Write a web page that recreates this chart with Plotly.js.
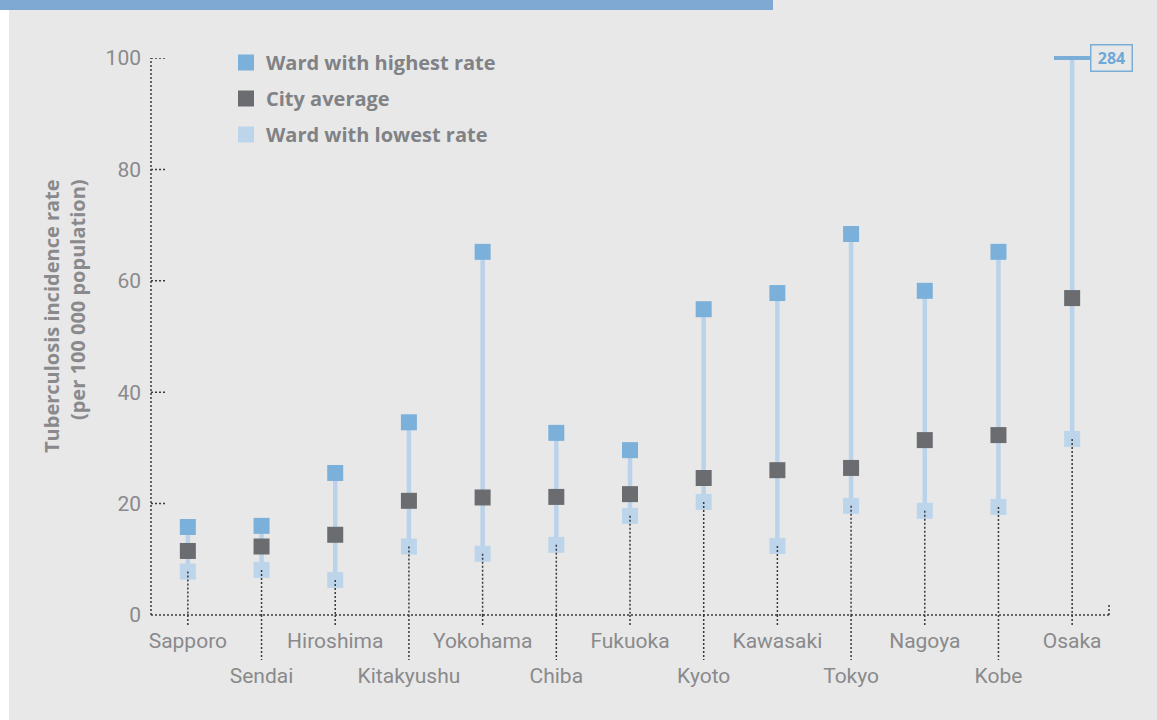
<!DOCTYPE html>
<html>
<head>
<meta charset="utf-8">
<script src="https://cdn.plot.ly/plotly-3.0.1.min.js"></script>
<style>html,body{margin:0;padding:0;background:#e8e8e8;}#chart{width:1157px;height:720px;}</style>
</head>
<body>
<div id="chart"></div>
<script>
// ---- data ----
var cities = ["Sapporo","Sendai","Hiroshima","Kitakyushu","Yokohama","Chiba","Fukuoka","Kyoto","Kawasaki","Tokyo","Nagoya","Kobe","Osaka"];
var highest = [15.8, 16.0, 25.5, 34.6, 65.2, 32.7, 29.6, 54.9, 57.8, 68.4, 58.2, 65.2, 284];
var average = [11.5, 12.3, 14.4, 20.5, 21.1, 21.2, 21.7, 24.6, 26.0, 26.4, 31.4, 32.3, 56.9];
var lowest  = [7.8, 8.1, 6.3, 12.3, 11.0, 12.6, 17.8, 20.3, 12.4, 19.6, 18.7, 19.4, 31.6];
var yTicks = [0, 20, 40, 60, 80, 100];
var seriesNames = ["Ward with highest rate", "City average", "Ward with lowest rate"];
var yTitle = "Tuberculosis incidence rate<br>(per 100 000 population)";

// ---- layout geometry (styling) ----
var W = 1157, H = 720, L = 151, R = 48, T = 58, B = 105;
var PW = W - L - R, PH = H - T - B;
function px2x(px){ return (px - L) / PW; }
function px2y(py){ return (H - B - py) / PH; }
var yMax = yTicks[yTicks.length - 1];

var cHigh = "#7bb0da", cAvg = "#6b6c70", cLow = "#bcd5eb", cConn = "#bad3ea", cCap = "#7aaed6";
var cText = "#8a8a8c", cDot = "#3a3a3a";
var font = "Roboto, 'Open Sans', sans-serif";
var boldFont = "'Open Sans', Roboto, sans-serif";
var dotLine = {color: cDot, width: 1.5, dash: "2px,2px"};

// connectors low -> high
var cx = [], cy = [], dx = [], dy = [];
cities.forEach(function(c, i){
  cx.push(c, c, null); cy.push(lowest[i], highest[i], null);
  dx.push(c, c, null); dy.push(lowest[i], 0, null);
});

var even = cities.filter(function(c, i){ return i % 2 === 0; });
var odd = cities.filter(function(c, i){ return i % 2 === 1; });
var over = cities.filter(function(c, i){ return highest[i] > yMax; });
var overVals = highest.filter(function(v){ return v > yMax; });

var traces = [
  {x: cx, y: cy, mode: "lines", line: {color: cConn, width: 4.5}, showlegend: false, hoverinfo: "skip"},
  {x: dx, y: dy, xaxis: "x2", mode: "lines", line: dotLine, showlegend: false, hoverinfo: "skip"},
  {x: cities, y: lowest, mode: "markers", name: seriesNames[2], legendgroup: "c", legendrank: 3,
   marker: {symbol: "square", size: 16, color: cLow}},
  {x: cities, y: average, mode: "markers", name: seriesNames[1], legendgroup: "b", legendrank: 2,
   marker: {symbol: "square", size: 16, color: cAvg}},
  {x: cities, y: highest, mode: "markers", name: seriesNames[0], legendgroup: "a", legendrank: 1,
   marker: {symbol: "square", size: 16, color: cHigh}},
  {x: over, y: over.map(function(){ return yMax; }), mode: "markers", showlegend: false, cliponaxis: false,
   marker: {symbol: "line-ew", size: 26, line: {color: cCap, width: 4}}, hoverinfo: "skip"}
];

var shapes = [
  {type: "rect", xref: "paper", yref: "paper", x0: px2x(0), x1: px2x(9), y0: px2y(H), y1: px2y(0),
   fillcolor: "#ffffff", line: {width: 0}, layer: "below"},
  {type: "rect", xref: "paper", yref: "paper", x0: px2x(0), x1: px2x(773), y0: px2y(10), y1: px2y(0),
   fillcolor: "#7fa8d2", line: {width: 0}, layer: "below"},
  {type: "line", xref: "paper", yref: "paper", x0: 0, x1: 0, y0: 0, y1: 1, line: dotLine},
  {type: "line", xref: "paper", yref: "paper", x0: 0, x1: 1, y0: 0, y1: 0, line: dotLine},
  {type: "line", xref: "paper", yref: "paper", x0: 1, x1: 1, y0: 0, y1: 12 / PH, line: dotLine}
];
yTicks.forEach(function(t){
  if (t === 0) return;
  shapes.push({type: "line", xref: "paper", yref: "y", x0: 0, x1: 14 / PW, y0: t, y1: t, line: dotLine});
});
cities.forEach(function(c, i){
  shapes.push({type: "line", xref: "x", yref: "paper", x0: i, x1: i, y0: 0,
    y1: (i % 2 === 0) ? -10 / PH : -45 / PH, line: dotLine});
});

var annotations = [
  {xref: "paper", yref: "paper", x: px2x(64), y: px2y(177), xanchor: "center", yanchor: "top",
   text: yTitle, textangle: -90, align: "right", showarrow: false,
   font: {family: boldFont, size: 20, color: cText, weight: "bold"}}
];
over.forEach(function(c, k){
  annotations.push({x: c, y: yMax, xref: "x", yref: "y", xanchor: "left", yanchor: "middle", xshift: 18, yshift: 0,
    text: "<b>" + overVals[k] + "</b>", showarrow: false, width: 38, height: 23, borderpad: 1,
    bordercolor: cCap, borderwidth: 1.5, font: {family: boldFont, size: 16, color: "#6fa8d6"}});
});

var axisFont = {family: font, size: 21, color: cText};
var layout = {
  width: W, height: H,
  margin: {l: L, r: R, t: T, b: B, pad: 0},
  paper_bgcolor: "#e8e8e8", plot_bgcolor: "#e8e8e8",
  showlegend: true,
  legend: {x: px2x(226), y: px2y(43), xanchor: "left", yanchor: "top", bgcolor: "rgba(0,0,0,0)",
    font: {family: boldFont, size: 20, color: "#808285", weight: "bold"}, tracegroupgap: 7, traceorder: "grouped"},
  xaxis: {type: "category", categoryarray: cities, categoryorder: "array", range: [-0.5, cities.length - 0.5],
    tickmode: "array", tickvals: even, ticktext: even, ticks: "", showline: false, showgrid: false, zeroline: false,
    tickfont: axisFont, ticklabelstandoff: 11, fixedrange: true},
  xaxis2: {type: "category", overlaying: "x", matches: "x", side: "bottom", categoryarray: cities, categoryorder: "array",
    range: [-0.5, cities.length - 0.5],
    tickmode: "array", tickvals: odd, ticktext: odd, ticks: "", showline: false, showgrid: false, zeroline: false,
    tickfont: axisFont, ticklabelstandoff: 46, fixedrange: true},
  yaxis: {range: [0, yMax], tickmode: "array", tickvals: yTicks, ticks: "", showline: false, showgrid: false,
    zeroline: false, tickfont: axisFont, ticklabelstandoff: 9, fixedrange: true},
  shapes: shapes,
  annotations: annotations
};

Plotly.newPlot("chart", traces, layout, {displayModeBar: false, staticPlot: true});
</script>
</body>
</html>
